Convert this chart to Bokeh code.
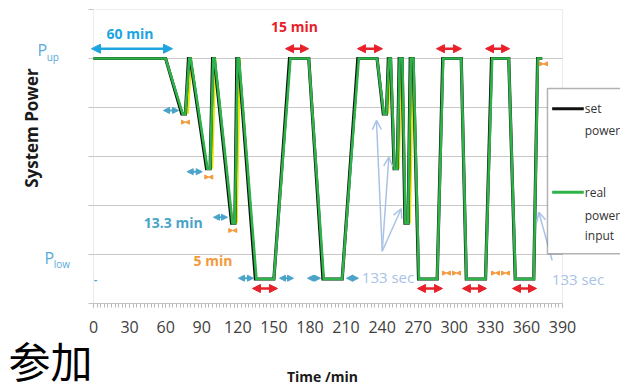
import math
from bokeh.plotting import figure
from bokeh.models import (Range1d, Label, Arrow, NormalHead, OpenHead, BoxAnnotation,
                          SingleIntervalTicker, LinearAxis)
from bokeh.embed import file_html
from bokeh.resources import INLINE

NAN = float("nan")

# ---------------- data ----------------
tick_values = [0, 30, 60, 90, 120, 150, 180, 210, 240, 270, 300, 330, 360, 390]
level_ticks = [0, 1, 2, 3, 4, 5, 6]
grid_levels = [1, 2, 3, 4, 5]

set_time = [0, 60, 73.4, 76.4, 79.0, 80.4, 94.0, 97.0, 99.0, 100.4, 114.8, 117.6, 119.2, 120.6,
            134.6, 150, 163.0, 179, 190.8, 206.8, 219.8, 235.8, 241.0, 243.6, 245.2, 247.0,
            250.0, 252.6, 254.2, 256.6, 259.0, 261.6, 263.4, 265.8, 270.3, 285.8, 290.4,
            305.8, 310.0, 326.0, 331.0, 345.3, 350.7, 366.1, 369.3, 373.1]
set_power = [5, 5, 3.87, 3.87, 5, 5, 2.75, 2.75, 5, 5, 1.64, 1.64, 5, 5,
             0.5, 0.5, 5, 5, 0.5, 0.5, 5, 5, 3.87, 3.87, 5, 5,
             2.75, 2.75, 5, 5, 1.64, 1.64, 5, 5, 0.5, 0.5, 5,
             5, 0.5, 0.5, 5, 5, 0.5, 0.5, 5, 5]

real_time = [0, 60, 74.2, 76.4, 79.6, 80.8, 94.8, 97.0, 99.6, 100.8, 115.6, 117.6, 119.8, 121.0,
             135.5, 150, 163.8, 179, 191.5, 206.8, 220.6, 235.8, 241.4, 243.6, 245.6, 247.2,
             250.3, 252.6, 254.6, 256.8, 259.4, 261.6, 263.8, 266.0, 270.6, 285.8, 290.8,
             305.8, 310.2, 326.0, 331.5, 345.3, 350.9, 366.1, 369.5, 373.1]
real_power = [5, 5, 3.87, 3.87, 5, 5, 2.75, 2.75, 5, 5, 1.64, 1.64, 5, 5,
              0.5, 0.5, 5, 5, 0.5, 0.5, 5, 5, 3.87, 3.87, 5, 5,
              2.75, 2.75, 5, 5, 1.64, 1.64, 5, 5, 0.5, 0.5, 5,
              5, 0.5, 0.5, 5, 5, 0.5, 0.5, 5, 5]

ramp_time = [78.4, 81.2, NAN, 98.6, 101.2, NAN, 119.0, 121.6, NAN,
             244.8, 246.8, NAN, 253.8, 256.2, NAN, 263.0, 265.8]
ramp_power = [3.87, 5, NAN, 2.75, 5, NAN, 1.64, 5, NAN,
              3.87, 5, NAN, 2.75, 5, NAN, 1.64, 5]

# ---------------- figure: the frame covers the whole page ----------------
p = figure(width=620, height=391, output_backend="svg", toolbar_location=None,
           x_range=Range1d(-77.335, 438.232), y_range=Range1d(-1.7959, 6.1837),
           x_axis_location=None, y_axis_location=None, min_border=0)
p.background_fill_color = "white"
p.border_fill_color = "white"
p.outline_line_color = None
p.xgrid.visible = False
p.ygrid.visible = False

t0, t1 = tick_values[0], tick_values[-1]
y0, y1 = level_ticks[0], level_ticks[-1]

# horizontal grid lines inside the plotting box
p.segment(x0=[t0] * len(grid_levels), x1=[t1] * len(grid_levels),
          y0=grid_levels, y1=grid_levels, line_color="#c8c8c8", line_width=1)

# plotting box border
p.add_layout(BoxAnnotation(left=t0, right=t1, bottom=y0, top=y1, fill_alpha=0,
                           line_color="#c4c4c4", line_width=1.2, level="underlay"))

# x axis drawn at level 0
xa = LinearAxis(fixed_location=0, bounds=(t0, t1))
xa.ticker = SingleIntervalTicker(interval=30, num_minor_ticks=10)
xa.axis_line_color = "#c4c4c4"
xa.major_tick_line_color = "#b8b8b8"
xa.minor_tick_line_color = "#b8b8b8"
xa.major_tick_in = 0
xa.major_tick_out = 4
xa.minor_tick_in = 0
xa.minor_tick_out = 4
xa.major_label_text_font = "Open Sans"
xa.major_label_text_font_size = "16px"
xa.major_label_text_color = "#404040"
xa.major_label_standoff = 13
p.add_layout(xa, "below")

# small outward ticks on the left border at each level
p.segment(x0=[t0 - 4.2] * len(level_ticks), x1=[t0] * len(level_ticks),
          y0=level_ticks, y1=level_ticks, line_color="#c4c4c4", line_width=1)

# ---------------- series ----------------
p.line(ramp_time, ramp_power, line_color="#e6e600", line_width=2.4)
p.line(set_time, set_power, line_color="#111111", line_width=3.2, line_join="miter")
p.line(real_time, real_power, line_color="#2eb34a", line_width=2.6, line_join="miter")

# ---------------- annotations ----------------
FONT = "Open Sans"

def lab(x, y, text, color, size, style="normal", align="center", baseline="middle",
        angle=0, font=FONT):
    p.add_layout(Label(x=x, y=y, text=text, text_color=color, text_font=font,
                       text_font_size=f"{size}px", text_font_style=style,
                       text_align=align, text_baseline=baseline, angle=angle))

def darrow(x0, x1, y, color, size, width):
    p.add_layout(Arrow(x_start=x0, y_start=y, x_end=x1, y_end=y,
                       line_color=color, line_width=width,
                       start=NormalHead(size=size, fill_color=color, line_color=color, line_width=1),
                       end=NormalHead(size=size, fill_color=color, line_color=color, line_width=1)))

def bowtie(c, y, color="#f39a3e"):
    for s in (-1, 1):
        p.add_layout(Arrow(x_start=c + s * 1.0, y_start=y, x_end=c, y_end=y, line_alpha=0,
                           end=NormalHead(size=4, fill_color=color, line_color=color, line_width=1)))

BLUE = "#1ea5e0"
RED = "#e8202a"
TEAL = "#4aa3c8"
LBLUE = "#a9c3e6"
ORANGE = "#f39a3e"
PCOL = "#5aaad8"

# 60 min
darrow(-1.7, 65.7, 5.2, BLUE, 9, 2.5)
lab(30.3, 5.51, "60 min", BLUE, 14, "bold")

# 15 min
lab(167.1, 5.65, "15 min", RED, 14, "bold")
for a, b in [(159.7, 178.8), (219.5, 240.3), (285.2, 306.0), (326.0, 346.0)]:
    darrow(a, b, 5.2, RED, 8, 2.5)
for a, b in [(132.2, 153.0), (269.4, 290.2), (306.8, 326.8), (348.4, 368.4)]:
    darrow(a, b, 0.306, RED, 8, 2.5)

# teal double arrows
for a, b, y in [(58.2, 70.7, 3.94), (77.9, 90.4, 2.69), (99.8, 111.4, 1.76),
                (120.6, 133.0, 0.516), (154.7, 166.3, 0.516),
                (178.0, 188.8, 0.516), (210.4, 220.3, 0.516)]:
    darrow(a, b, y, TEAL, 6, 2)
lab(1.7, 0.51, "-", TEAL, 10, "bold")
lab(66.3, 1.643, "13.3 min", TEAL, 14, "bold")

# orange bowties
for c, y in [(76.5, 3.70), (95.9, 2.58), (115.8, 1.49), (293.5, 0.62), (301.9, 0.62),
             (334.3, 0.62), (342.6, 0.62), (374.2, 4.89)]:
    bowtie(c, y)
lab(99.4, 0.878, "5 min", ORANGE, 14, "bold")

# 133 sec arrows
for hx, hy in [(235.3, 3.735), (245.6, 2.986), (255.9, 1.933)]:
    p.add_layout(Arrow(x_start=240.1, y_start=1.067, x_end=hx, y_end=hy,
                       line_color=LBLUE, line_width=1.5,
                       end=OpenHead(size=9, line_color=LBLUE, line_width=1.5)))
p.add_layout(Arrow(x_start=381.4, y_start=0.878, x_end=370.3, y_end=1.863,
                   line_color=LBLUE, line_width=1.5,
                   end=OpenHead(size=9, line_color=LBLUE, line_width=1.5)))
lab(244.9, 0.551, "133 sec", LBLUE, 15)
lab(402.9, 0.510, "133 sec", LBLUE, 15)

# P labels
lab(-46.6, 5.17, "P", PCOL, 16, align="left")
lab(-38.9, 5.03, "up", PCOL, 10, align="left")
lab(-40.7, 0.92, "P", PCOL, 16, align="left")
lab(-33.0, 0.80, "low", PCOL, 10, align="left")

# axis titles and caption
lab(-51.6, 3.58, "System Power", "#1a1a1a", 17, "bold", angle=math.pi / 2)
lab(190.4, -1.49, "Time /min", "#1a1a1a", 14, "bold")
lab(-35.8, -1.76, "参加", "#000000", 42, baseline="bottom", font="Noto Sans CJK SC")

# legend box (drawn by hand, it runs past the right edge)
p.add_layout(BoxAnnotation(left=377.5, right=460, top=4.388, bottom=1.014,
                           fill_color="white", fill_alpha=1.0,
                           line_color="#000000", line_width=1.5))
p.add_layout(Arrow(x_start=381.4, y_start=3.973, x_end=407.7, y_end=3.973,
                   line_color="#111111", line_width=3, start=None, end=None))
p.add_layout(Arrow(x_start=381.4, y_start=2.271, x_end=407.7, y_end=2.271,
                   line_color="#2eb34a", line_width=3, start=None, end=None))
lab(408.5, 3.973, "set", "#333333", 12, align="left")
lab(408.5, 3.531, "power", "#333333", 12, align="left")
lab(408.5, 2.271, "real", "#333333", 12, align="left")
lab(408.5, 1.796, "power", "#333333", 12, align="left")
lab(408.5, 1.388, "input", "#333333", 12, align="left")

open("out.html", "w").write(file_html(p, INLINE))
